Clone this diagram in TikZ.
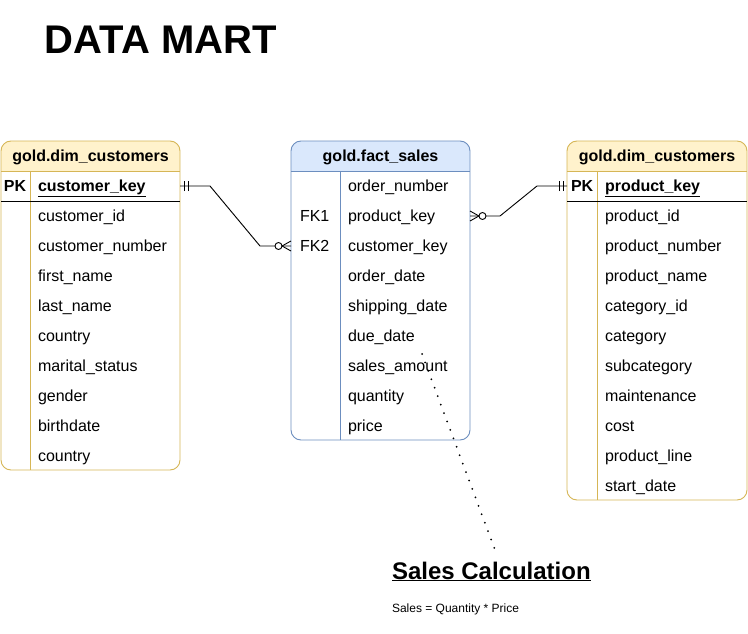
\documentclass[tikz,border=0pt]{standalone}
\usepackage{fontspec}
\setmainfont{Liberation Sans}
\definecolor{yfill}{HTML}{FFF2CC}
\definecolor{ybrd}{HTML}{D6B656}
\definecolor{bfill}{HTML}{DAE8FC}
\definecolor{bbrd}{HTML}{6C8EBF}
\newcommand\fsx{\fontsize{16}{19}\selectfont}
\begin{document}
\begin{tikzpicture}[x=1pt,y=-1pt,
  every node/.style={inner sep=0pt, outer sep=0pt},
  rowbox/.style={minimum height=30pt, anchor=north west},
  txt/.style={anchor=base west, font=\fsx},
  hdr/.style={anchor=base, font=\fsx\bfseries},
  conn/.style={draw=black, line width=0.9pt},
  dotline/.style={line width=2pt, line cap=round, dash pattern=on 0pt off 9pt}]
\useasboundingbox[fill=white] (0,0) rectangle (748,634);

% title
\node[anchor=base west, font=\fontsize{40}{46}\selectfont\bfseries] (title) at (45,54) {DATA MART};

% ---------------- left table ----------------
\node[rowbox, minimum width=179pt, minimum height=329pt] (LT) at (1,141) {};
\begin{scope}
  \clip[rounded corners=10pt] (LT.north west) rectangle (LT.south east);
  \fill[yfill] (LT.north west) rectangle ([yshift=-30pt]LT.north east);
\end{scope}
\draw[ybrd, line width=0.9pt, rounded corners=10pt] (LT.north west) rectangle (LT.south east);
\draw[ybrd, line width=0.9pt] ([yshift=-30pt]LT.north west) -- ([yshift=-30pt]LT.north east);
\draw[ybrd, line width=0.9pt] ([xshift=29pt,yshift=-30pt]LT.north west) -- ([xshift=29pt]LT.south west);
\draw[black, line width=0.9pt] ([yshift=-60pt]LT.north west) -- ([yshift=-60pt]LT.north east);
\node[hdr] (LH) at (90.5,161) {gold.dim\_customers};
\foreach \i in {0,...,9} \node[rowbox, minimum width=179pt] (L\i) at (1,{171+30*\i}) {};
\node[txt, font=\fsx\bfseries] (LPK) at (4,191) {PK};
\node[txt, font=\fsx\bfseries] (Lk) at (38,191) {\underline{customer\_key}};
\foreach \t [count=\i] in {customer\_id,customer\_number,first\_name,last\_name,country,marital\_status,gender,birthdate,country}
  \node[txt] (Lt\i) at (38,{191+30*\i}) {\t};

% ---------------- middle table ----------------
\node[rowbox, minimum width=179pt, minimum height=299pt] (MT) at (291,141) {};
\begin{scope}
  \clip[rounded corners=10pt] (MT.north west) rectangle (MT.south east);
  \fill[bfill] (MT.north west) rectangle ([yshift=-30pt]MT.north east);
\end{scope}
\draw[bbrd, line width=0.9pt, rounded corners=10pt] (MT.north west) rectangle (MT.south east);
\draw[bbrd, line width=0.9pt] ([yshift=-30pt]MT.north west) -- ([yshift=-30pt]MT.north east);
\draw[bbrd, line width=0.9pt] ([xshift=49pt,yshift=-30pt]MT.north west) -- ([xshift=49pt]MT.south west);
\node[hdr] (MH) at (380.5,161) {gold.fact\_sales};
\foreach \i in {0,...,8} \node[rowbox, minimum width=179pt] (M\i) at (291,{171+30*\i}) {};
\node[txt] (FK1) at (300,221) {FK1};
\node[txt] (FK2) at (300,251) {FK2};
\foreach \t [count=\i from 0] in {order\_number,product\_key,customer\_key,order\_date,shipping\_date,due\_date,sales\_amount,quantity,price}
  \node[txt] (Mt\i) at (348,{191+30*\i}) {\t};

% ---------------- right table ----------------
\node[rowbox, minimum width=180pt, minimum height=359pt] (RT) at (567,141) {};
\begin{scope}
  \clip[rounded corners=10pt] (RT.north west) rectangle (RT.south east);
  \fill[yfill] (RT.north west) rectangle ([yshift=-30pt]RT.north east);
\end{scope}
\draw[ybrd, line width=0.9pt, rounded corners=10pt] (RT.north west) rectangle (RT.south east);
\draw[ybrd, line width=0.9pt] ([yshift=-30pt]RT.north west) -- ([yshift=-30pt]RT.north east);
\draw[ybrd, line width=0.9pt] ([xshift=30pt,yshift=-30pt]RT.north west) -- ([xshift=30pt]RT.south west);
\draw[black, line width=0.9pt] ([yshift=-60pt]RT.north west) -- ([yshift=-60pt]RT.north east);
\node[hdr] (RH) at (657,161) {gold.dim\_customers};
\foreach \i in {0,...,10} \node[rowbox, minimum width=180pt] (R\i) at (567,{171+30*\i}) {};
\node[txt, font=\fsx\bfseries] (RPK) at (571,191) {PK};
\node[txt, font=\fsx\bfseries] (Rk) at (605,191) {\underline{product\_key}};
\foreach \t [count=\i] in {product\_id,product\_number,product\_name,category\_id,category,subcategory,maintenance,cost,product\_line,start\_date}
  \node[txt] (Rt\i) at (605,{191+30*\i}) {\t};

% ---------------- connectors ----------------
% customers -> fact (customer_key)
\draw[conn] (L0.east) -- ([xshift=30pt]L0.east) -- ([xshift=-31pt]M2.west) -- (M2.west);
\draw[conn] ([xshift=4pt,yshift=-5pt]L0.east) -- ([xshift=4pt,yshift=5pt]L0.east);
\draw[conn] ([xshift=8pt,yshift=-5pt]L0.east) -- ([xshift=8pt,yshift=5pt]L0.east);
\draw[conn, fill=white] ([xshift=-12.5pt]M2.west) circle (3.5pt);
\draw[conn] ([xshift=-9pt]M2.west) -- ([yshift=5pt]M2.west);
\draw[conn] ([xshift=-9pt]M2.west) -- ([yshift=-5pt]M2.west);

% fact (product_key) -> products
\draw[conn] (M1.east) -- ([xshift=30pt]M1.east) -- ([xshift=-30pt]R0.west) -- (R0.west);
\draw[conn] ([xshift=-4pt,yshift=-5pt]R0.west) -- ([xshift=-4pt,yshift=5pt]R0.west);
\draw[conn] ([xshift=-8pt,yshift=-5pt]R0.west) -- ([xshift=-8pt,yshift=5pt]R0.west);
\draw[conn, fill=white] ([xshift=12.5pt]M1.east) circle (3.5pt);
\draw[conn] ([xshift=9pt]M1.east) -- ([yshift=5pt]M1.east);
\draw[conn] ([xshift=9pt]M1.east) -- ([yshift=-5pt]M1.east);

% ---------------- note ----------------
\node[anchor=base west, font=\fontsize{24}{29}\selectfont\bfseries] (note) at (392,579) {\underline{Sales Calculation}};
\node[anchor=base west, font=\fontsize{12}{14}\selectfont] (formula) at (392,612) {Sales = Quantity * Price};
\coordinate (dotA) at (422,354);
\coordinate (dotB) at (495,550);
\draw[dotline] (dotA) -- (dotB);
\end{tikzpicture}
\end{document}
